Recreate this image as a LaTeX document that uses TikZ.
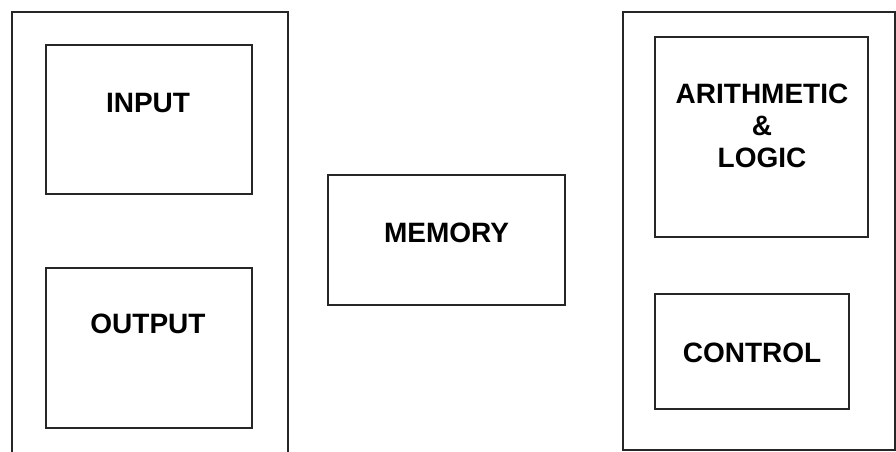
\documentclass[tikz,border=0pt]{standalone}
\usepackage{fontspec}
\setmainfont{Liberation Sans}
\usepackage{tikz}
\usetikzlibrary{positioning}

\tikzset{
  unit/.style={draw=black!85,line width=1.3pt},
  label/.style={font=\bfseries\fontsize{28}{32}\selectfont,inner sep=0pt,anchor=base,align=center}
}

\begin{document}
\begin{tikzpicture}[x=1pt,y=-1pt]
\useasboundingbox (0,0) rectangle (896,452);
\clip (0,0) rectangle (896,452);
% outer groups
\draw[unit] (12,470) -- (12,12) -- (288,12) -- (288,470);
\draw[unit] (623,12) rectangle (895,450);
% units
\draw[unit] (46,45) rectangle (252,194);
\draw[unit] (46,268) rectangle (252,428);
\draw[unit] (328,175) rectangle (565,305);
\draw[unit] (655,37) rectangle (868,237);
\draw[unit] (655,294) rectangle (849,409);
% labels
\node[label] (input) at (148,112) {INPUT};
\node[label] (output) at (148,333) {OUTPUT};
\node[label] (memory) at (446.5,242) {MEMORY};
\node[label] (alu) at (762,167) {ARITHMETIC\\\&\\LOGIC};
\node[label] (control) at (752,362) {CONTROL};
\end{tikzpicture}
\end{document}
